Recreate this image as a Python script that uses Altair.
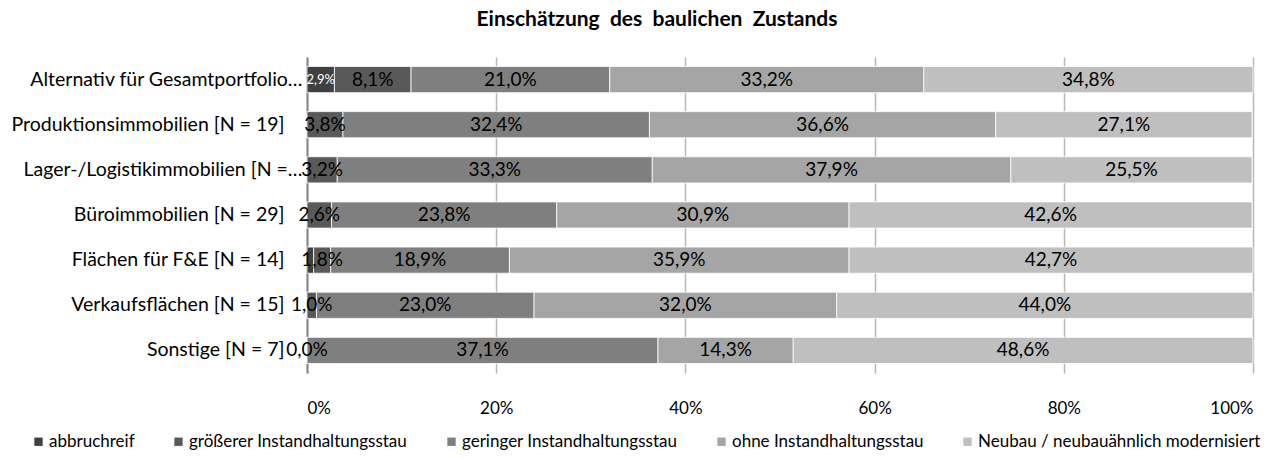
import altair as alt
import pandas as pd

categories = [
    "Alternativ für Gesamtportfolio…",
    "Produktionsimmobilien [N = 19]",
    "Lager-/Logistikimmobilien [N =…",
    "Büroimmobilien [N = 29]",
    "Flächen für F&E [N = 14]",
    "Verkaufsflächen [N = 15]",
    "Sonstige [N = 7]",
]
series = [
    "abbruchreif",
    "größerer Instandhaltungsstau",
    "geringer Instandhaltungsstau",
    "ohne Instandhaltungsstau",
    "Neubau / neubauähnlich modernisiert",
]
abbruchreif = [2.9, 0.0, 0.0, 0.0, 0.7, 0.0, 0.0]
groesserer = [8.1, 3.8, 3.2, 2.6, 1.8, 1.0, 0.0]
geringer = [21.0, 32.4, 33.3, 23.8, 18.9, 23.0, 37.1]
ohne = [33.2, 36.6, 37.9, 30.9, 35.9, 32.0, 14.3]
neubau = [34.8, 27.1, 25.5, 42.6, 42.7, 44.0, 48.6]
# which abbruchreif values carry a data label in the original
abbruchreif_labelled = [True, False, False, False, False, False, False]

colors = ["#404040", "#595959", "#7f7f7f", "#a5a5a5", "#bfbfbf"]

rows = []
for si, vals in enumerate([abbruchreif, groesserer, geringer, ohne, neubau]):
    for ci, cat in enumerate(categories):
        lab = f"{vals[ci]:.1f}".replace(".", ",") + "%"
        if si == 0 and not abbruchreif_labelled[ci]:
            lab = ""
        rows.append(dict(category=cat, series=series[si], order=si,
                         value=vals[ci], label=lab))
df = pd.DataFrame(rows)

FONT = "Lato"

base = alt.Chart(df).transform_stack(
    stack="value", groupby=["category"], sort=[alt.SortField("order")],
    as_=["x0", "x1"]
).transform_calculate(mid="(datum.x0 + datum.x1) / 2")

yenc = alt.Y(
    "category:N", sort=categories, title=None,
    scale=alt.Scale(paddingInner=0.42, paddingOuter=0.21),
    axis=alt.Axis(
        ticks=False, domain=True, domainColor="#868686", domainWidth=2,
        labelFont=FONT, labelFontSize=19.5, labelColor="#000000",
        labelPadding={"condition": {"test": "indexof(datum.label, '…') >= 0", "value": 5},
                      "value": 23},
        labelLimit=500, grid=False,
    ),
)

bars = base.mark_bar(stroke="white", strokeWidth=0.8).encode(
    y=yenc,
    x=alt.X(
        "x0:Q", title=None,
        scale=alt.Scale(domain=[0, 100], nice=False, zero=True),
        axis=alt.Axis(
            values=[0, 20, 40, 60, 80, 100], labelExpr="datum.value + '%'",
            ticks=False, domain=False, grid=True, gridColor="#b8b8b8",
            gridWidth=1.5, labelFont=FONT, labelFontSize=17,
            labelColor="#000000", labelPadding=27,
        ),
    ),
    x2="x1:Q",
    color=alt.Color(
        "series:N", scale=alt.Scale(domain=series, range=colors),
        legend=alt.Legend(
            orient="none", legendX=-277, legendY=376, direction="horizontal",
            columns=5, title=None, symbolType="square", symbolSize=70,
            symbolStrokeWidth=0, labelFont=FONT, labelFontSize=17,
            labelColor="#000000", labelLimit=500, columnPadding=35,
            symbolOffset=0, labelOffset=2,
        ),
    ),
    order=alt.Order("order:Q"),
)

text = base.transform_filter("datum.label != ''").mark_text(
    font=FONT, align="center", baseline="middle"
).encode(
    y=alt.Y("category:N", sort=categories),
    x=alt.X("mid:Q"),
    text="label:N",
    color=alt.condition("datum.order == 0", alt.value("#ffffff"), alt.value("#000000")),
    size=alt.condition("datum.order == 0", alt.value(13), alt.value(19)),
)

chart = alt.layer(bars, text).properties(
    width=946, height=316,
    autosize=alt.AutoSizeParams(type="none"),
    padding={"left": 299, "top": 49, "right": 26, "bottom": 78},
    title=alt.TitleParams(
        "Einschätzung\u00a0 des\u00a0 baulichen\u00a0 Zustands", font=FONT, fontSize=21,
        fontWeight="bold", color="#000000", anchor="middle", dx=-123,
        offset=27,
    ),
).configure_view(stroke=None)

chart.save("out.html", embed_options={"renderer": "svg", "actions": False})
